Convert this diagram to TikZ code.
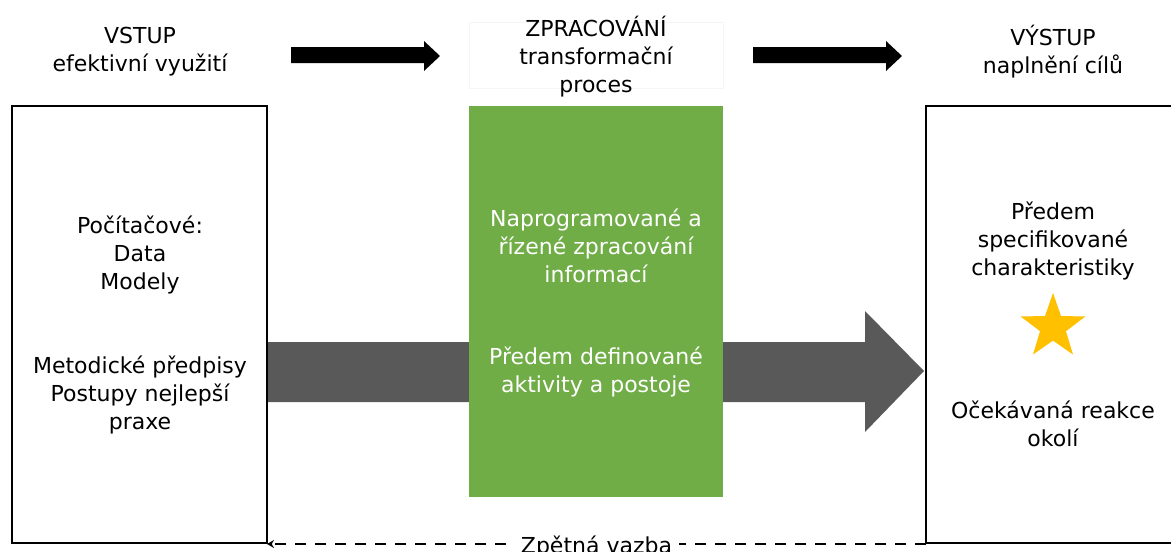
\documentclass[tikz,border=0pt]{standalone}
\usepackage{fontspec}
\setmainfont{DejaVu Sans}
\usetikzlibrary{shapes.geometric,arrows.meta}
\definecolor{grn}{HTML}{70AD47}
\definecolor{dgray}{HTML}{595959}
\definecolor{gold}{HTML}{FFC000}
\begin{document}
\begin{tikzpicture}[x=1pt,y=-1pt,
  txt/.style={font=\fontsize{22}{28}\selectfont, align=center, inner sep=0pt},
  frame/.style={draw=black, line width=2.6pt, fill=white}]
\useasboundingbox (0,0) rectangle (1171,552);
\fill[white] (0,0) rectangle (1171,552);
% boxes
\draw[frame] (12,106) rectangle (267,543);
\coordinate (lbe) at (267,544);
\draw[frame] (926,106) rectangle (1180,543);
\coordinate (rbw) at (926,544);
% gray arrow
\fill[dgray] (268,342) -- (865,342) -- (865,311) -- (924,371) -- (865,432) -- (865,402) -- (268,402) -- cycle;
% header light box
\draw[draw=black!4, fill=white] (469,22) rectangle (723,88);
% green box
\fill[grn] (469,106) rectangle (723,497);
% top arrows
\fill (291,47) -- (424,47) -- (424,41) -- (440,56) -- (424,71) -- (424,63) -- (291,63) -- cycle;
\fill (753,47) -- (886,47) -- (886,41) -- (902,56) -- (886,71) -- (886,63) -- (753,63) -- cycle;
% headers
\node[txt] (h1) at (140,52) {VSTUP\\efektivní využití};
\node[txt] (h2) at (596,57) {ZPRACOVÁNÍ\\transformační\\proces};
\node[txt] (h3) at (1053,52) {VÝSTUP\\naplnění cílů};
% left texts
\node[txt] (l1) at (140,255) {Počítačové:\\Data\\Modely};
\node[txt] (l2) at (140,395) {Metodické předpisy\\Postupy nejlepší\\praxe};
% green texts
\node[txt, text=white] (g1) at (596,246) {Naprogramované a\\řízené zpracování\\informací};
\node[txt, text=white] (g2) at (596,372) {Předem definované\\aktivity a postoje};
% right texts
\node[txt] (r1) at (1053,241) {Předem\\specifikované\\charakteristiky};
\node[star, star points=5, star point ratio=2.5, fill=gold, minimum size=68pt, inner sep=0pt] (st) at (1053,327) {};
\node[txt] (r2) at (1053,424) {Očekávaná reakce\\okolí};
% feedback
\draw[line width=2.6pt, dash pattern=on 11pt off 9pt, -{Stealth[length=7pt,width=8pt]}] (rbw) -- (lbe)
  node[pos=0.5, fill=white, txt, inner xsep=7pt, inner ysep=2pt, yshift=-3pt] (fb) {Zpětná vazba};
\end{tikzpicture}
\end{document}
